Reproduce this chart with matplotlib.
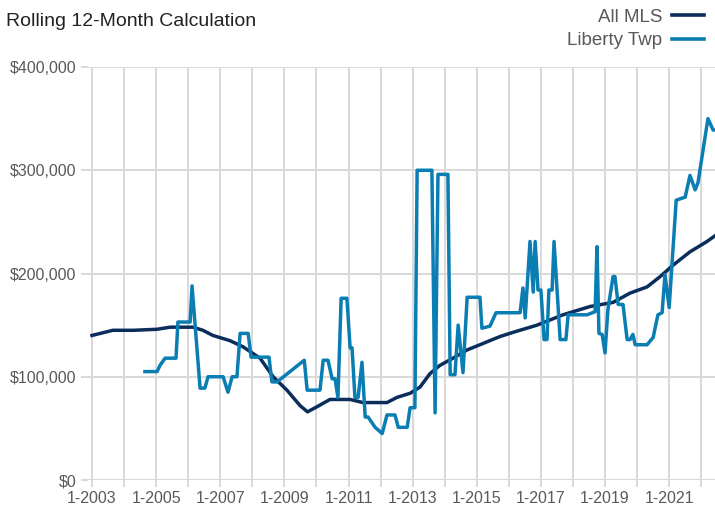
import matplotlib.pyplot as plt
from matplotlib.lines import Line2D

plt.rcParams['font.family'] = ['Liberation Sans Narrow', 'Liberation Sans', 'DejaVu Sans']

# dates as decimal years, values in dollars
mls_t = [2003.0, 2003.65, 2004.3, 2005.03, 2005.43, 2006.15, 2006.46, 2006.77, 2007.3, 2007.71,
         2008.24, 2008.65, 2009.08, 2009.49, 2009.72, 2010.02, 2010.42, 2011.05, 2011.45, 2012.2,
         2012.51, 2012.92, 2013.23, 2013.54, 2013.85, 2014.26, 2014.7, 2015.1, 2015.41, 2015.73,
         2016.13, 2016.88, 2017.69, 2018.53, 2019.25, 2019.78, 2020.31, 2020.72, 2021.12, 2021.65,
         2022.18, 2022.45]
mls_v = [140000, 145000, 145000, 146000, 148000, 148000, 145000, 140000, 135000, 129000,
         118000, 100000, 87000, 72000, 66000, 71000, 78000, 78000, 75000, 75000,
         80000, 84000, 90000, 103000, 111000, 118000, 126000, 131000, 135000, 139000,
         143000, 150000, 160000, 168000, 172000, 181000, 187000, 197000, 208000, 221000,
         231000, 237000]

lib_t = [2004.65, 2005.03, 2005.12, 2005.28, 2005.62, 2005.68, 2006.06, 2006.12, 2006.37, 2006.52,
         2006.62, 2007.09, 2007.24, 2007.37, 2007.52, 2007.62, 2007.87, 2007.96, 2008.52, 2008.61,
         2008.77, 2009.62, 2009.71, 2010.11, 2010.21, 2010.36, 2010.49, 2010.58, 2010.67, 2010.77,
         2010.95, 2011.05, 2011.11, 2011.2, 2011.3, 2011.42, 2011.52, 2011.61, 2011.83, 2012.05,
         2012.2, 2012.45, 2012.55, 2012.83, 2012.92, 2013.07, 2013.14, 2013.6, 2013.7, 2013.79,
         2014.1, 2014.17, 2014.32, 2014.42, 2014.57, 2014.7, 2015.1, 2015.16, 2015.41, 2015.6,
         2016.35, 2016.44, 2016.51, 2016.66, 2016.76, 2016.82, 2016.91, 2017.0, 2017.1, 2017.19,
         2017.25, 2017.35, 2017.41, 2017.6, 2017.78, 2017.85, 2018.44, 2018.69, 2018.75, 2018.81,
         2018.91, 2019.0, 2019.09, 2019.25, 2019.31, 2019.41, 2019.56, 2019.69, 2019.78, 2019.87,
         2019.94, 2020.31, 2020.5, 2020.65, 2020.78, 2020.87, 2021.0, 2021.22, 2021.5, 2021.65,
         2021.81, 2021.9, 2022.21, 2022.37, 2022.45]
lib_v = [105000, 105000, 111000, 118000, 118000, 153000, 153000, 188000, 89000, 89000,
         100000, 100000, 85000, 100000, 100000, 142000, 142000, 119000, 119000, 95000,
         95000, 116000, 87000, 87000, 116000, 116000, 98000, 98000, 80000, 176000,
         176000, 128000, 128000, 80000, 80000, 114000, 61000, 61000, 51000, 45000,
         63000, 63000, 51000, 51000, 70000, 70000, 300000, 300000, 65000, 296000,
         296000, 102000, 102000, 150000, 104000, 177000, 177000, 147000, 149000, 162000,
         162000, 186000, 157000, 231000, 182000, 231000, 184000, 184000, 136000, 136000,
         184000, 184000, 231000, 136000, 136000, 160000, 160000, 163000, 226000, 142000,
         141000, 123000, 165000, 197000, 197000, 170000, 170000, 136000, 136000, 141000,
         131000, 131000, 138000, 160000, 162000, 199000, 167000, 271000, 274000, 295000,
         281000, 288000, 350000, 339000, 339000]

years = list(range(2003, 2023))
label_years = list(range(2003, 2022, 2))

navy = '#0b2d5c'
blue = '#0a7db3'
grid = '#d9d9d9'
tick_col = '#595959'

fig = plt.figure(figsize=(7.15, 5.15), dpi=100)
ax = fig.add_axes([88 / 715, 1 - 480 / 515, 1 - 88 / 715, (480 - 67) / 515])

ax.plot(mls_t, mls_v, color=navy, lw=2.5, solid_joinstyle='round', zorder=3)
ax.plot(lib_t, lib_v, color=blue, lw=2.5, solid_joinstyle='round', zorder=4)

ax.set_xlim(2002.875, 2022.43)
ax.set_ylim(0, 400000)
ax.set_yticks([0, 100000, 200000, 300000, 400000])
ax.set_yticklabels(['$0', '$100,000', '$200,000', '$300,000', '$400,000'])
ax.set_xticks(years)
ax.set_xticklabels([f'1-{y}' if y in label_years else '' for y in years])

ax.grid(True, color=grid, lw=1.4, zorder=0)
for s in ax.spines.values():
    s.set_visible(False)
ax.tick_params(axis='both', color=grid, width=1.4, length=5, labelcolor=tick_col, labelsize=11.5)
ax.tick_params(axis='x', pad=3)

fig.text(0.008, 0.975, 'Rolling 12-Month Calculation', fontsize=14, color='#222222',
         ha='left', va='top')

handles = [Line2D([], [], color=navy, lw=2.6), Line2D([], [], color=blue, lw=2.6)]
leg = fig.legend(handles, ['All MLS', 'Liberty Twp'], loc='upper right',
                 bbox_to_anchor=(1.0, 1.005), frameon=False, fontsize=13.5,
                 markerfirst=False, handlelength=1.7, handletextpad=0.5,
                 labelspacing=0.35, borderaxespad=0.2)
for t in leg.get_texts():
    t.set_color(tick_col)

fig.savefig('out.png', dpi=100)
